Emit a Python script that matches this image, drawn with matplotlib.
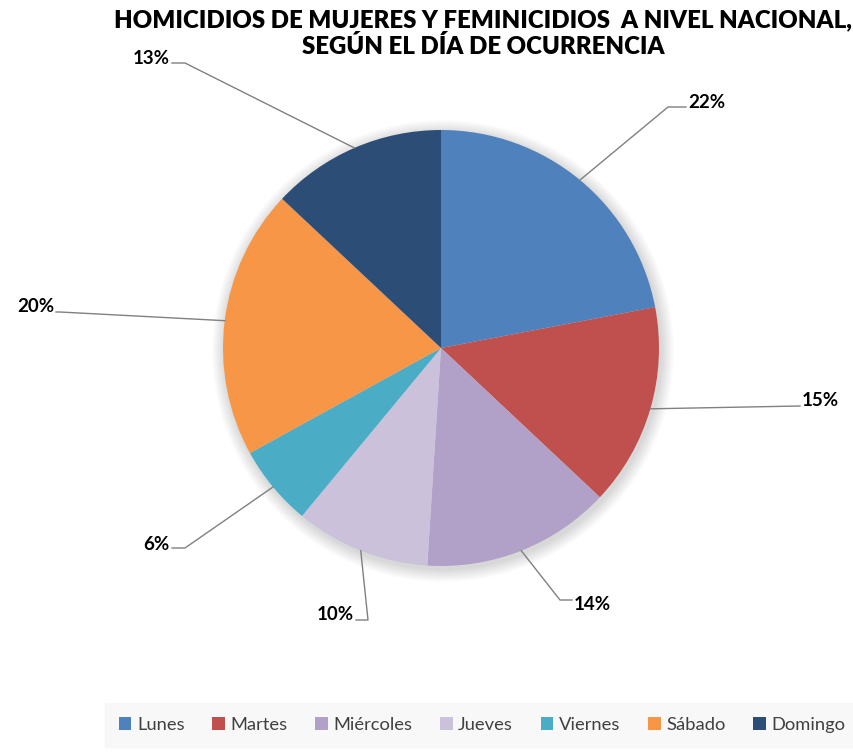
import numpy as np
import matplotlib.pyplot as plt
from matplotlib.patches import Patch, Circle

dias = ['Lunes', 'Martes', 'Miércoles', 'Jueves', 'Viernes', 'Sábado', 'Domingo']
porcentajes = [22, 15, 14, 10, 6, 20, 13]
colores = ['#4f81bd', '#c0504d', '#b1a0c7', '#ccc1da', '#4bacc6', '#f79646', '#2c4d75']

# posiciones de las etiquetas (codo de la linea y texto), en pixeles con y hacia arriba
codos = [(668, 645), (800, 346), (560, 152), (368, 132), (185, 204), (60, 440), (185, 689)]
fin_linea = [(686, 645), (800, 346), (572, 152), (356, 132), (172, 204), (56, 440), (172, 689)]
pos_texto = [(688, 649), (802, 352), (574, 148), (354, 138), (170, 208), (54, 446), (170, 694)]
alineacion = ['left', 'left', 'left', 'right', 'right', 'right', 'right']

plt.rcParams['font.family'] = ['Lato', 'DejaVu Sans']

fig = plt.figure(figsize=(8.54, 7.52), dpi=100)
ax = fig.add_axes([0, 0, 1, 1])

cx, cy, r = 441, 404, 218

# sombra suave
for k in range(1, 14):
    ax.add_patch(Circle((cx + 2, cy - 3), r + k, color='black', alpha=0.012, lw=0, zorder=0))

wedges, _ = ax.pie(porcentajes, colors=colores, startangle=90, counterclock=False,
                   center=(cx, cy), radius=r, frame=True,
                   wedgeprops=dict(linewidth=0))
ax.set_xlim(0, 854)
ax.set_ylim(0, 752)
ax.set_aspect('auto')
ax.axis('off')

for w, codo, fin, pt, ha, p in zip(wedges, codos, fin_linea, pos_texto, alineacion, porcentajes):
    ang = np.deg2rad((w.theta1 + w.theta2) / 2)
    x0 = cx + r * np.cos(ang)
    y0 = cy + r * np.sin(ang)
    ax.plot([x0, codo[0], fin[0]], [y0, codo[1], fin[1]], color='#808080', lw=1.0, zorder=3)
    ax.text(pt[0], pt[1], f'{p}%', ha=ha, va='center', fontsize=13.5,
            fontweight='bold', color='black')

ax.text(483, 732, 'HOMICIDIOS DE MUJERES Y FEMINICIDIOS  A NIVEL NACIONAL,',
        ha='center', va='center', fontsize=17.3, fontweight='heavy')
ax.text(483, 705, 'SEGÚN EL DÍA DE OCURRENCIA',
        ha='center', va='center', fontsize=17.3, fontweight='heavy')

handles = [Patch(facecolor=c, edgecolor='none', label=d) for c, d in zip(colores, dias)]
leg = fig.legend(handles=handles, loc='center', ncol=7, bbox_to_anchor=(482 / 854, 27 / 752),
                 frameon=True, fontsize=13.2, handlelength=0.7, handleheight=0.7,
                 handletextpad=0.3, columnspacing=1.5, borderpad=0.75, fancybox=False)
leg.get_frame().set_facecolor('#f7f7f7')
leg.get_frame().set_edgecolor('#f7f7f7')
for t in leg.get_texts():
    t.set_color('#404040')

fig.savefig('out.png', dpi=100)
